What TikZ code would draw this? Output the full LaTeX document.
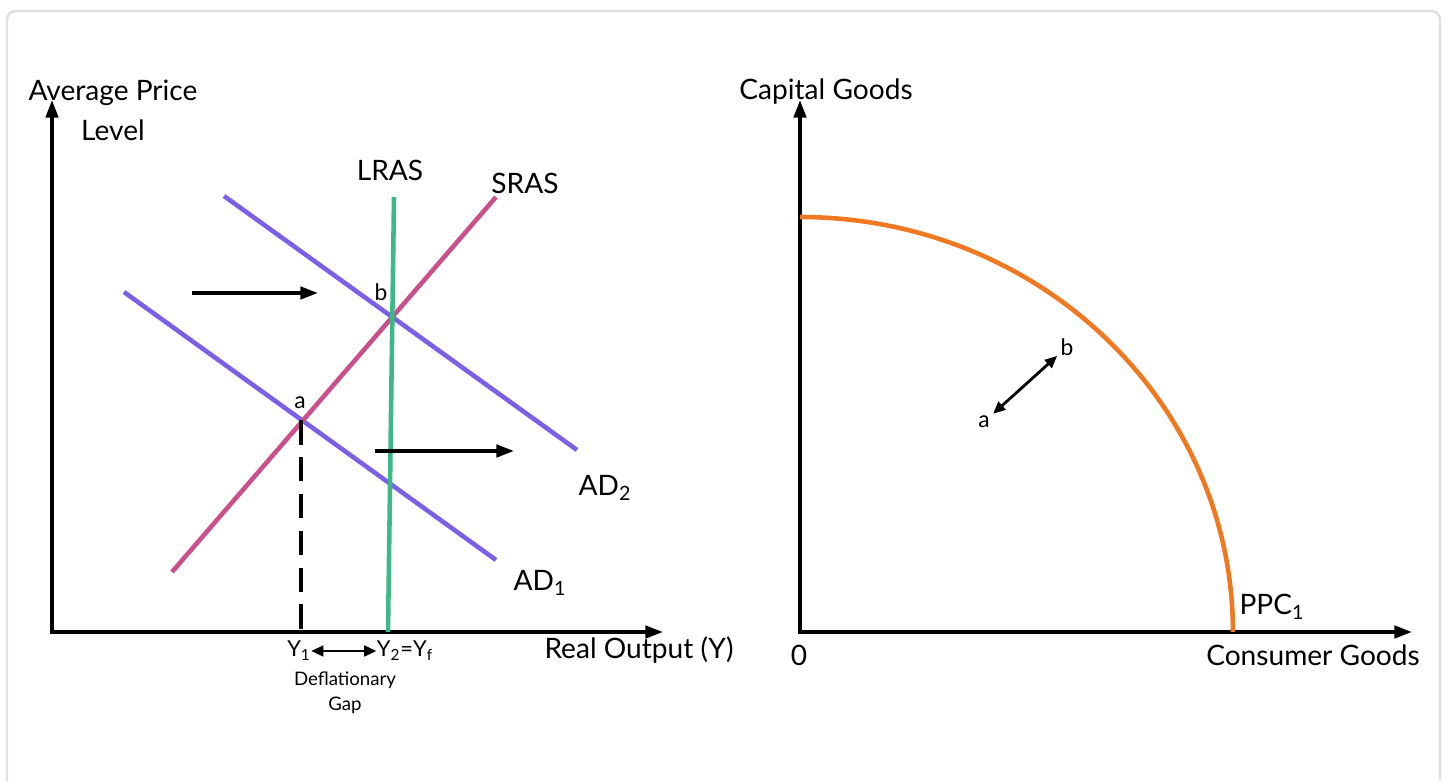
\documentclass[tikz,border=0pt]{standalone}
\usepackage{fontspec}
\setmainfont{Lato}
\usetikzlibrary{arrows.meta, positioning}
\definecolor{cFrame}{HTML}{DEDEDE}
\definecolor{cAD}{HTML}{7B5FE6}
\definecolor{cSRAS}{HTML}{C9508A}
\definecolor{cLRAS}{HTML}{3DB887}
\definecolor{cPPC}{HTML}{F07820}
\tikzset{
  axis/.style={{Triangle[length=10pt, width=7pt]}-{Triangle[length=10pt, width=7pt]}, line width=2pt},
  curve/.style={line width=2.6pt, draw=#1},
  shiftarw/.style={-{Triangle[length=10pt, width=7pt]}, line width=2pt},
  dblarw/.style={{Triangle[length=7pt, width=6pt]}-{Triangle[length=7pt, width=6pt]}, line width=1.6pt},
  biglabel/.style={font=\fontsize{16}{19}\selectfont, inner sep=1pt},
  smlabel/.style={font=\fontsize{10.6}{14}\selectfont, inner sep=1pt},
  ylabel/.style={font=\fontsize{12.5}{15}\selectfont, inner sep=0pt},
  ptlabel/.style={font=\fontsize{13}{15}\selectfont, inner sep=1pt},
}
\begin{document}
\begin{tikzpicture}[x=0.02cm, y=-0.02cm]
  \useasboundingbox (0,0) rectangle (1448,781);

  % Card frame
  \draw[cFrame, line width=1.3pt, rounded corners=5pt]
    (7,820) -- (7,11) -- (1440,11) -- (1440,820);

  % ---------- AD/AS diagram ----------
  \coordinate (lo) at (52,632);
  \coordinate (ly) at (52,100);
  \coordinate (lx) at (663,632);
  \draw[axis] (ly) -- (lo) -- (lx);

  \node[biglabel] (plabel) at (113,93) {Average Price};
  \node[biglabel] (plevel) at (113,130) {Level};
  \node[biglabel] (xlabel) at (639,650) {Real Output (Y)};

  % Curves
  \coordinate (lrasT) at (394,197);
  \coordinate (lrasB) at (388,632);
  \coordinate (srasB) at (172,572);
  \coordinate (srasT) at (496,197);
  \coordinate (adtwoT) at (224,196);
  \coordinate (adtwoB) at (577,450);
  \coordinate (adoneT) at (124,292);
  \coordinate (adoneB) at (496,560);

  \draw[curve=cAD] (adoneT) -- (adoneB);
  \draw[curve=cAD] (adtwoT) -- (adtwoB);
  \draw[curve=cSRAS] (srasB) -- (srasT);
  \draw[curve=cLRAS] (lrasT) -- (lrasB);

  \node[biglabel] (lras) at (390,170) {LRAS};
  \node[biglabel] (sras) at (525,183) {SRAS};
  \node[biglabel] (adtwo) at (605,488) {AD\textsubscript{2}};
  \node[biglabel] (adone) at (540,583) {AD\textsubscript{1}};

  % Equilibrium points
  \coordinate (ptA) at (301,420);
  \coordinate (ptAx) at (301,632);
  \node[ptlabel] (la) at (300,403) {a};
  \node[ptlabel] (lb) at (381,292) {b};
  \draw[line width=2pt, dash pattern=on 14pt off 7pt] (ptA) -- (ptAx);

  % Shift arrows
  \coordinate (sAs) at (192,293);
  \coordinate (sAe) at (318,293);
  \coordinate (sBs) at (375,451);
  \coordinate (sBe) at (514,451);
  \draw[shiftarw] (sAs) -- (sAe);
  \draw[shiftarw] (sBs) -- (sBe);

  % Output gap
  \node[ylabel] (yone) at (299,651) {Y\textsubscript{1}};
  \node[ylabel] (ytwo) at (405,651) {Y\textsubscript{2}=Y\textsubscript{f}};
  \draw[dblarw] (yone) -- (ytwo);
  \node[smlabel, align=center] (gap) at (345,693) {Deflationary\\Gap};

  % ---------- PPC diagram ----------
  \coordinate (ro) at (800,632);
  \coordinate (ry) at (800,100);
  \coordinate (rx) at (1412,632);
  \draw[axis] (ry) -- (ro) -- (rx);

  \node[biglabel] (klabel) at (826,92) {Capital Goods};
  \node[biglabel] (zero) at (799,655) {0};
  \node[biglabel] (clabel) at (1313,655) {Consumer Goods};
  \node[biglabel] (ppc) at (1272,607) {PPC\textsubscript{1}};

  \coordinate (ppcT) at (800,217);
  \draw[curve=cPPC] (ppcT) arc[start angle=90, end angle=0, x radius=8.66cm, y radius=8.3cm];

  \node[ptlabel] (ra) at (984,422) {a};
  \node[ptlabel] (rb) at (1067,347) {b};
  \draw[dblarw, shorten <=1pt, shorten >=1pt] (ra) -- (rb);

\end{tikzpicture}
\end{document}
